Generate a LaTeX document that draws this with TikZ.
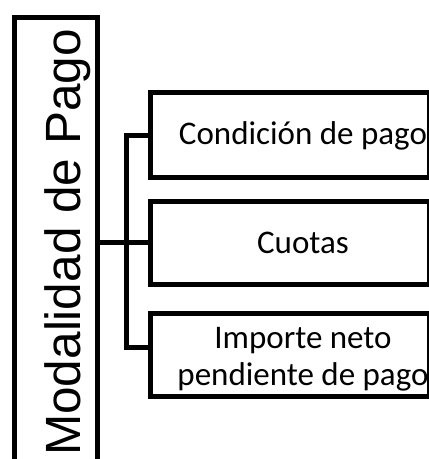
\documentclass[tikz,border=0pt]{standalone}
\usepackage{fontspec}
\newfontfamily\titlefont{Liberation Sans}
\newfontfamily\itemfont{Carlito}
\usetikzlibrary{positioning}

\begin{document}
\begin{tikzpicture} [
    x=1pt, y=-1pt,
    frame/.style={rectangle, draw=black, line width=5pt, inner sep=0pt},
    item/.style={font=\itemfont\fontsize{33}{36.7}\selectfont, inner sep=0pt, align=center},
    title/.style={font=\titlefont\fontsize{49.5}{50}\selectfont, inner sep=0pt, rotate=90, anchor=base},
    link/.style={draw=black, line width=5pt}
    ]
    \useasboundingbox (0,0) rectangle (429,459);
    %Nodes
    \node[frame, minimum width=82.9pt, minimum height=457.5pt] (modo) at (56.05,246.25) {};
    \node[title]     (titulo)   at (80,242.5) {Modalidad de Pago};
    \node[frame, minimum width=279pt, minimum height=84.4pt] (cond) at (290.3,135) {};
    \node[frame, minimum width=279pt, minimum height=83.3pt] (cuo) [below=18.8pt of cond] {};
    \node[frame, minimum width=279pt, minimum height=82.5pt] (imp) [below=24.2pt of cuo] {};
    \node[item, anchor=base] (tcond)  at (303,144.5) {Condición de pago};
    \node[item, anchor=base] (tcuo)   at (303,253.3)   {Cuotas};
    \node[item]              (timp)   at (303,359.2)   {Importe neto\\pendiente de pago};
    %Lines
    \coordinate (bus) at (126.7,242.5);
    \coordinate (bustop) at (126.7,135);
    \coordinate (busbot) at (126.7,347);
    \draw[link] (modo.east |- bus) -- (cuo.west |- bus);
    \draw[link] (cond.west |- bustop) -- (bustop) -- (busbot) -- (imp.west |- busbot);
\end{tikzpicture}
\end{document}
